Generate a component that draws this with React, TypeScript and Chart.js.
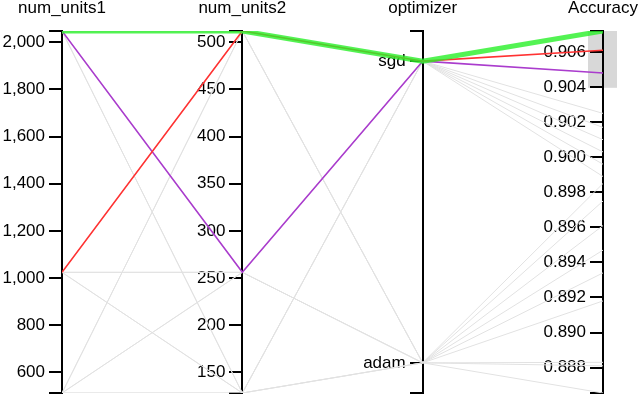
import React, { useEffect, useRef } from 'react';
import { Chart, registerables, LinearScale } from 'chart.js';

Chart.register(...registerables);

// Linear axis placed at an x-position, with its labels set left of the tick marks
class ParallelAxis extends LinearScale {
  _computeLabelItems(chartArea: any) {
    const items = (LinearScale.prototype as any)._computeLabelItems.call(this, chartArea);
    const opts: any = (this as any).options;
    const shift = opts.grid.tickLength + opts.ticks.padding;
    return items.map((it: any) => ({
      ...it,
      options: { ...it.options, translation: [it.options.translation[0] - shift, it.options.translation[1]] },
    }));
  }
}
(ParallelAxis as any).id = 'parallelAxis';
(ParallelAxis as any).defaults = (LinearScale as any).defaults;
Chart.register(ParallelAxis as any);

// ---- data ----
const dimensionNames = ['num_units1', 'num_units2', 'optimizer', 'Accuracy'];

const runUnits1 = [2048, 1024, 1024, 512, 512, 512, 2048, 2048, 2048, 1024, 1024, 1024, 512, 512, 512, 2048, 1024, 2048];
const runUnits2 = [128, 256, 128, 512, 256, 128, 512, 256, 128, 512, 256, 128, 512, 256, 128, 256, 512, 512];
const runOptimizer = ['sgd', 'sgd', 'sgd', 'sgd', 'sgd', 'sgd', 'adam', 'adam', 'adam', 'adam', 'adam', 'adam', 'adam', 'adam', 'adam', 'sgd', 'sgd', 'sgd'];
const runAccuracy = [0.9025, 0.9017, 0.901, 0.9003, 0.8996, 0.8989, 0.8985, 0.8975, 0.8961, 0.8947, 0.8934, 0.8918, 0.8883, 0.8881, 0.88655, 0.9048, 0.9061, 0.9072];

const optimizerCategories = ['adam', 'sgd'];
const units1Ticks = [600, 800, 1000, 1200, 1400, 1600, 1800, 2000];
const units2Ticks = [150, 200, 250, 300, 350, 400, 450, 500];
const accuracyTicks = [0.888, 0.89, 0.892, 0.894, 0.896, 0.898, 0.9, 0.902, 0.904, 0.906];
const brushRange = [0.90396, 0.9072];

// ---- styles ----
const FONT = { family: "'Liberation Sans', Arial, sans-serif", size: 17 };
const highlightStyles = [
  { color: 'rgb(170, 60, 205)', width: 1.6 },
  { color: 'rgb(255, 50, 50)', width: 1.6 },
  { color: 'rgba(40, 240, 40, 0.8)', width: 5 },
];
const grayStyle = { color: 'rgb(226, 226, 226)', width: 1 };
const OPT_PAD = 0.1;

const norm = (v: number, min: number, max: number) => (v - min) / (max - min);

export default function App() {
  const ref = useRef<HTMLCanvasElement>(null);

  useEffect(() => {
    const canvas = ref.current;
    if (!canvas) return;

    const u1Min = Math.min(...runUnits1), u1Max = Math.max(...runUnits1);
    const u2Min = Math.min(...runUnits2), u2Max = Math.max(...runUnits2);
    const optMin = -OPT_PAD, optMax = optimizerCategories.length - 1 + OPT_PAD;
    const accMin = Math.min(...runAccuracy), accMax = Math.max(...runAccuracy);

    const highlighted = runAccuracy
      .map((a, i) => i)
      .filter((i) => runAccuracy[i] >= brushRange[0] && runAccuracy[i] <= brushRange[1])
      .sort((a, b) => runAccuracy[a] - runAccuracy[b]);

    const datasets = runAccuracy.map((acc, i) => {
      const rank = highlighted.indexOf(i);
      const style = rank >= 0 ? highlightStyles[Math.min(rank, highlightStyles.length - 1)] : grayStyle;
      return {
        label: 'run' + i,
        data: [
          { x: 0, y: norm(runUnits1[i], u1Min, u1Max) },
          { x: 1, y: norm(runUnits2[i], u2Min, u2Max) },
          { x: 2, y: norm(optimizerCategories.indexOf(runOptimizer[i]), optMin, optMax) },
          { x: 3, y: norm(acc, accMin, accMax) },
        ],
        xAxisID: 'x',
        yAxisID: 'yn',
        borderColor: style.color,
        borderWidth: style.width,
        borderJoinStyle: 'round' as const,
        pointRadius: 0,
        tension: 0,
        fill: false,
        order: rank >= 0 ? 10 - rank : 100,
      };
    });

    const zeroPad = (s: any) => {
      s.paddingTop = 0;
      s.paddingBottom = 0;
    };
    const axisCommon = (xPos: number) => ({
      type: 'parallelAxis',
      axis: 'y' as const,
      position: { x: xPos },
      afterFit: zeroPad,
      grid: { drawOnChartArea: false, drawTicks: true, tickLength: 12, color: '#000', lineWidth: 2 },
      border: { display: true, color: '#000', width: 2 },
    });
    const tickOpts = (cb: (v: number) => string) => ({
      font: FONT,
      color: '#000',
      padding: 5,
      autoSkip: false,
      callback: (v: any) => cb(Number(v)),
    });

    const brushPlugin = {
      id: 'brush',
      beforeDraw(chart: any) {
        const sy = chart.scales.acc;
        const sx = chart.scales.x;
        const x = sx.getPixelForValue(3);
        const top = sy.getPixelForValue(brushRange[1]);
        const bottom = sy.getPixelForValue(brushRange[0]);
        const ctx = chart.ctx;
        ctx.save();
        ctx.fillStyle = 'rgb(216, 216, 216)';
        ctx.fillRect(x - 15, top, 29, bottom - top);
        ctx.restore();
      },
    };

    const chart = new Chart(canvas, {
      type: 'line',
      data: { datasets: datasets as any },
      options: {
        animation: false,
        responsive: false,
        maintainAspectRatio: false,
        layout: { padding: { left: 62, right: 37, top: 0, bottom: 1 } },
        plugins: { legend: { display: false }, tooltip: { enabled: false } },
        scales: {
          x: {
            type: 'linear',
            position: 'top',
            min: 0,
            max: 3,
            afterBuildTicks: (s: any) => {
              s.ticks = dimensionNames.map((_, i) => ({ value: i }));
            },
            afterFit: (s: any) => {
              s.height = 31;
              s.paddingLeft = 0;
              s.paddingRight = 0;
            },
            ticks: {
              font: FONT,
              color: '#000',
              padding: 12,
              autoSkip: false,
              maxRotation: 0,
              minRotation: 0,
              callback: (v: any) => dimensionNames[Number(v)] ?? '',
            },
            grid: { display: false, drawTicks: false },
            border: { display: false },
          },
          yn: { type: 'linear', min: 0, max: 1, display: false },
          u1: {
            ...axisCommon(0),
            min: u1Min,
            max: u1Max,
            afterBuildTicks: (s: any) => {
              s.ticks = [u1Min, ...units1Ticks, u1Max].map((value) => ({ value }));
            },
            ticks: tickOpts((v) => (v === u1Min || v === u1Max ? '' : v.toLocaleString('en-US'))),
          },
          u2: {
            ...axisCommon(1),
            min: u2Min,
            max: u2Max,
            afterBuildTicks: (s: any) => {
              s.ticks = [u2Min, ...units2Ticks, u2Max].map((value) => ({ value }));
            },
            ticks: tickOpts((v) => (v === u2Min || v === u2Max ? '' : String(v))),
          },
          opt: {
            ...axisCommon(2),
            min: optMin,
            max: optMax,
            afterBuildTicks: (s: any) => {
              s.ticks = [optMin, ...optimizerCategories.map((_, i) => i), optMax].map((value) => ({ value }));
            },
            ticks: tickOpts((v) => (Number.isInteger(v) ? optimizerCategories[v] ?? '' : '')),
          },
          acc: {
            ...axisCommon(3),
            min: accMin,
            max: accMax,
            afterBuildTicks: (s: any) => {
              s.ticks = [accMin, ...accuracyTicks, accMax].map((value) => ({ value }));
            },
            ticks: tickOpts((v) => (v === accMin || v === accMax ? '' : v.toFixed(3))),
          },
        } as any,
      },
      plugins: [brushPlugin],
    });

    return () => chart.destroy();
  }, []);

  return (
    <div style={{ position: 'fixed', left: 0, top: 0, width: 640, height: 394, background: '#fff' }}>
      <canvas ref={ref} width={640} height={394} style={{ display: 'block' }} />
    </div>
  );
}
